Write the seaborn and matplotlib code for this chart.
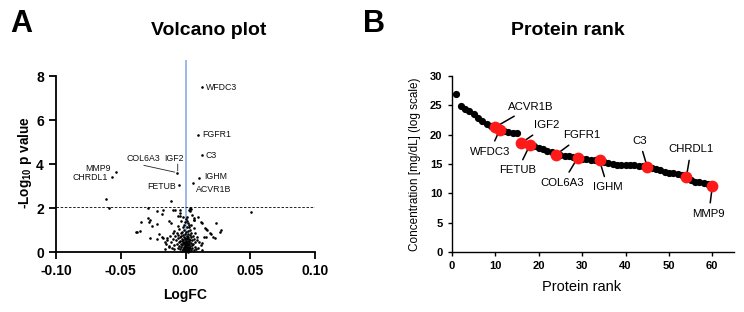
import matplotlib
matplotlib.use("Agg")
import matplotlib.pyplot as plt
import numpy as np
import pandas as pd
import seaborn as sns

# ---------------- Volcano plot data ----------------
volcano_genes = ["WFDC3", "FGFR1", "C3", "IGF2", "MMP9", "CHRDL1", "IGHM", "FETUB", "ACVR1B"]
volcano_gene_logfc = [0.0129, 0.0093, 0.0124, -0.0067, -0.0540, -0.0564, 0.0103, -0.0052, 0.0060]
volcano_gene_logp = [7.49, 5.33, 4.39, 3.61, 3.64, 3.39, 3.36, 3.03, 3.15]

other_logfc = [
    -0.0612, -0.0587, -0.0110, -0.0290, -0.0220, -0.0175, -0.0180, -0.0046, -0.0039, -0.0290,
    -0.0283, -0.0340, -0.0257, -0.0220, -0.0129, -0.0113, -0.0355, -0.0386, -0.0273, -0.0206,
    -0.0185, -0.0175, -0.0140, -0.0160, -0.0095, -0.0080, -0.0060, -0.0042, -0.0016, -0.0275,
    -0.0375, -0.0222, -0.0142, -0.0150, -0.0160, -0.0129,
    0.0031, 0.0025, 0.0036, 0.0062, 0.0066, 0.0121, 0.0232, 0.0147, 0.0165, 0.0198,
    0.0211, 0.0224, 0.0276, 0.0268, 0.0139, 0.0160, 0.0108, 0.0124, 0.0116, 0.0507,
    0.0095, 0.0066, 0.0039, 0.0052, 0.0069, 0.0129, 0.0155, 0.0193, 0.0085, 0.0072,
    0.0090, 0.0100, 0.0130,
    -0.0085, -0.0078, -0.0072, -0.0068, -0.0065, -0.0061, -0.0058, -0.0055, -0.0052, -0.0049,
    -0.0047, -0.0044, -0.0042, -0.0040, -0.0038, -0.0036, -0.0034, -0.0032, -0.0030, -0.0029,
    -0.0027, -0.0025, -0.0024, -0.0022, -0.0021, -0.0019, -0.0018, -0.0016, -0.0015, -0.0014,
    -0.0012, -0.0011, -0.0010, -0.0009, -0.0008, -0.0007, -0.0006, -0.0005, -0.0004, -0.0003,
    -0.0002, -0.0001, 0.0000, 0.0001, 0.0002, 0.0003, 0.0004, 0.0005, 0.0006, 0.0007,
    0.0008, 0.0009, 0.0010, 0.0011, 0.0012, 0.0013, 0.0014, 0.0015, 0.0016, 0.0017,
    0.0018, 0.0019, 0.0020, 0.0021, 0.0022, 0.0023, 0.0024, 0.0025, 0.0026, 0.0027,
    0.0028, 0.0029, 0.0030, 0.0032, 0.0033, 0.0035, 0.0036, 0.0038, 0.0040, 0.0042,
    0.0044, 0.0046, 0.0048, 0.0050, 0.0053, 0.0056, 0.0059, 0.0062, 0.0066, 0.0070,
    0.0075, 0.0080, -0.0092, -0.0098, -0.0105, -0.0110, -0.0118, -0.0125, -0.0088, -0.0095,
    -0.0003, 0.0001, -0.0012, 0.0008, 0.0018, -0.0020, 0.0030, 0.0045, -0.0060, -0.0035,
    0.0012,
]
other_logp = [
    2.39, 1.98, 2.31, 1.98, 1.86, 1.91, 1.71, 1.93, 1.76, 1.53,
    1.38, 1.35, 1.20, 1.26, 1.41, 1.33, 0.95, 0.89, 0.62, 0.80,
    0.70, 0.62, 0.62, 0.45, 1.91, 1.93, 1.64, 1.62, 1.60, 1.47,
    0.91, 0.60, 0.55, 0.35, 0.15, 0.25,
    2.02, 1.91, 1.86, 1.53, 1.44, 1.38, 1.30, 1.08, 1.00, 0.80,
    0.70, 0.62, 1.00, 0.93, 0.70, 0.66, 0.47, 0.39, 0.30, 1.83,
    1.60, 1.10, 1.94, 1.67, 1.47, 1.33, 1.06, 0.86, 0.55, 0.85,
    0.70, 0.20, 0.10,
    0.95, 0.72, 0.55, 0.88, 0.35, 0.62, 0.18, 0.78, 0.45, 1.05,
    0.28, 0.66, 0.12, 0.52, 0.85, 0.38, 0.22, 0.71, 0.05, 0.48,
    0.93, 0.31, 0.60, 0.15, 0.42, 0.76, 0.08, 0.55, 0.25, 0.98,
    0.36, 0.68, 0.11, 0.47, 0.19, 0.82, 0.03, 0.58, 0.29, 0.40,
    0.14, 0.64, 0.07, 0.33, 0.51, 0.21, 0.89, 0.04, 0.44, 0.27,
    0.72, 0.10, 0.57, 0.35, 1.12, 0.16, 0.63, 0.42, 0.02, 0.81,
    0.24, 0.50, 0.09, 0.70, 0.31, 0.95, 0.13, 0.46, 1.25, 0.20,
    0.61, 0.37, 0.06, 0.78, 0.27, 0.53, 1.02, 0.17, 0.40, 0.66,
    0.11, 0.86, 0.30, 0.55, 0.20, 0.74, 0.38, 0.09, 0.58, 0.25,
    0.45, 0.15, 0.32, 0.58, 0.18, 0.44, 0.75, 0.28, 0.12, 0.85,
    1.35, 1.48, 1.22, 1.42, 1.30, 1.15, 1.15, 1.25, 1.20, 1.40,
    1.60,
]
volcano_threshold = 2.05
volcano_xticks = [-0.10, -0.05, 0.00, 0.05, 0.10]
volcano_xticklabels = ["-0.10", "-0.05", "0.00", "0.05", "0.10"]
volcano_yticks = [0, 2, 4, 6, 8]

# ---------------- Protein rank data ----------------
rank_conc = [27.0, 24.9, 24.4, 24.0, 23.5, 22.9, 22.3, 21.8, 21.5, 21.3,
             20.8, 20.6, 20.4, 20.3, 20.2, 18.6, 18.4, 18.3, 18.0, 17.7,
             17.5, 17.3, 17.0, 16.6, 16.5, 16.4, 16.3, 16.2, 16.1, 15.9,
             15.8, 15.7, 15.6, 15.6, 15.4, 15.1, 15.0, 14.9, 14.9, 14.8,
             14.8, 14.8, 14.7, 14.6, 14.5, 14.3, 14.1, 13.9, 13.7, 13.5,
             13.4, 13.3, 13.1, 12.7, 12.2, 12.0, 11.9, 11.8, 11.6, 11.2]
rank_genes = ["ACVR1B", "WFDC3", "IGF2", "FETUB", "FGFR1", "COL6A3", "IGHM", "C3", "CHRDL1", "MMP9"]
rank_gene_ranks = [10, 11, 16, 18, 24, 29, 34, 45, 54, 60]
rank_xticks = [0, 10, 20, 30, 40, 50, 60]
rank_yticks = [0, 5, 10, 15, 20, 25, 30]

# ---------------- style ----------------
sns.set_theme(style="ticks")
plt.rcParams["font.family"] = ["Liberation Sans", "DejaVu Sans"]
plt.rcParams["axes.unicode_minus"] = False
plt.rcParams["mathtext.fontset"] = "custom"
plt.rcParams["mathtext.rm"] = "Liberation Sans:bold"
plt.rcParams["mathtext.it"] = "Liberation Sans:bold"
plt.rcParams["mathtext.bf"] = "Liberation Sans:bold"
for k in ("text.color", "axes.labelcolor", "xtick.color", "ytick.color", "axes.edgecolor"):
    plt.rcParams[k] = "black"

W, H = 744, 312
fig = plt.figure(figsize=(W / 100, H / 100), dpi=100)

def rect(l, r, t, b):
    return [l / W, 1 - b / H, (r - l) / W, (b - t) / H]

# ================= Panel A: volcano =================
axA = fig.add_axes(rect(56, 315, 60, 252))
df_other = pd.DataFrame({"logfc": other_logfc, "logp": other_logp})
df_gene = pd.DataFrame({"logfc": volcano_gene_logfc, "logp": volcano_gene_logp, "gene": volcano_genes})

axA.axvline(0, color="#94b3e6", lw=1.3, zorder=1)
axA.axhline(volcano_threshold, color="black", lw=0.6, ls=(0, (3, 2)), zorder=1)
sns.scatterplot(data=df_other, x="logfc", y="logp", ax=axA, color="black", s=3.5,
                linewidth=0, zorder=3, clip_on=False)
sns.scatterplot(data=df_gene, x="logfc", y="logp", ax=axA, color="black", s=3.5,
                linewidth=0, zorder=3)

axA.set_xlim(-0.10, 0.10)
axA.set_ylim(0, 8.73)
axA.spines["left"].set_bounds(0, 8)
axA.spines["top"].set_visible(False)
axA.spines["right"].set_visible(False)
for sp in ("left", "bottom"):
    axA.spines[sp].set_linewidth(1.3)
axA.set_xticks(volcano_xticks)
axA.set_xticklabels(volcano_xticklabels)
axA.set_yticks(volcano_yticks)
axA.tick_params(axis="both", direction="out", length=4.8, width=1.3, labelsize=10, pad=4)
for lab in axA.get_xticklabels() + axA.get_yticklabels():
    lab.set_fontweight("bold")
axA.set_xlabel("LogFC", fontsize=10, fontweight="bold")
axA.set_ylabel(r"-Log$_{10}$ p value", fontsize=9.8, fontweight="bold")
axA.xaxis.set_label_coords(0.5, -(288 - 252) / 192)
axA.yaxis.set_label_coords((34 - 56) / 259, (252 - 163) / 192)

# label layout for volcano (text positions & alignment)
volcano_label_pos = {
    "WFDC3": (0.0160, 7.49, "left"),
    "FGFR1": (0.0129, 5.33, "left"),
    "C3": (0.0154, 4.39, "left"),
    "IGHM": (0.0144, 3.42, "left"),
    "ACVR1B": (0.0083, 2.85, "left"),
    "FETUB": (-0.0077, 2.97, "right"),
    "IGF2": (-0.0085, 4.23, "center"),
    "COL6A3": (-0.0324, 4.23, "center"),
    "MMP9": (-0.0581, 3.80, "right"),
    "CHRDL1": (-0.0600, 3.39, "right"),
}
for name, (tx, ty, ha) in volcano_label_pos.items():
    axA.text(tx, ty, name, ha=ha, va="center", fontsize=6.3, color="#111111")
igf2_i = volcano_genes.index("IGF2")
igf2_xy = (volcano_gene_logfc[igf2_i], volcano_gene_logp[igf2_i])
axA.annotate("", xy=igf2_xy, xytext=(-0.0322, 3.94),
             arrowprops=dict(arrowstyle="-", lw=0.6, color="#222222", shrinkA=0, shrinkB=1.5))
axA.annotate("", xy=(igf2_xy[0] + 0.0007, igf2_xy[1] + 0.08), xytext=(igf2_xy[0] + 0.0007, 4.0),
             arrowprops=dict(arrowstyle="-", lw=0.6, color="#222222", shrinkA=0, shrinkB=0))

# ================= Panel B: protein rank =================
axB = fig.add_axes(rect(452, 734, 76, 252))
ranks = list(range(1, len(rank_conc) + 1))
df_rank = pd.DataFrame({"rank": ranks, "conc": rank_conc})
df_rank["hl"] = df_rank["rank"].isin(rank_gene_ranks)
sns.scatterplot(data=df_rank[~df_rank["hl"]], x="rank", y="conc", ax=axB, color="black",
                s=27, linewidth=0, zorder=3)
sns.scatterplot(data=df_rank[df_rank["hl"]], x="rank", y="conc", ax=axB, color="#ff1a1a",
                s=72, linewidth=0, zorder=5)
axB.set_xlim(0, 65)
axB.set_ylim(0, 30)
axB.spines["top"].set_visible(False)
axB.spines["right"].set_visible(False)
for sp in ("left", "bottom"):
    axB.spines[sp].set_linewidth(1.0)
axB.set_xticks(rank_xticks)
axB.set_yticks(rank_yticks)
axB.tick_params(axis="both", direction="out", length=2.8, width=1.0, labelsize=8, pad=4)
for lab in axB.get_xticklabels() + axB.get_yticklabels():
    lab.set_fontweight("bold")
axB.set_xlabel("Protein rank", fontsize=10.5)
axB.set_ylabel("Concentration [mg/dL] (log scale)", fontsize=8.5)
axB.xaxis.set_label_coords((582 - 452) / 282, -(280 - 252) / 176)
axB.yaxis.set_label_coords((421 - 452) / 282, 0.5)

rank_label_pos = {
    "ACVR1B": (18.2, 24.8),
    "WFDC3": (8.7, 17.1),
    "IGF2": (21.9, 21.6),
    "FETUB": (15.1, 13.9),
    "FGFR1": (30.0, 19.9),
    "COL6A3": (25.5, 11.8),
    "IGHM": (35.9, 11.0),
    "C3": (43.2, 19.0),
    "CHRDL1": (55.1, 17.5),
    "MMP9": (59.2, 6.5),
}
for g, r in zip(rank_genes, rank_gene_ranks):
    tx, ty = rank_label_pos[g]
    axB.annotate(g, xy=(r, rank_conc[r - 1]), xytext=(tx, ty), ha="center", va="center",
                 fontsize=8.2, zorder=2,
                 arrowprops=dict(arrowstyle="-", lw=1.1, color="black", shrinkA=2, shrinkB=0))

# ================= titles / panel letters =================
fig.text(10 / W, 1 - 32 / H, "A", fontsize=22, fontweight="bold", va="baseline", ha="left")
fig.text(363 / W, 1 - 32 / H, "B", fontsize=22, fontweight="bold", va="baseline", ha="left")
fig.text(209 / W, 1 - 35 / H, "Volcano plot", fontsize=14, fontweight="bold", va="baseline", ha="center")
fig.text(568 / W, 1 - 35 / H, "Protein rank", fontsize=14, fontweight="bold", va="baseline", ha="center")

fig.savefig("out.png", dpi=100)
